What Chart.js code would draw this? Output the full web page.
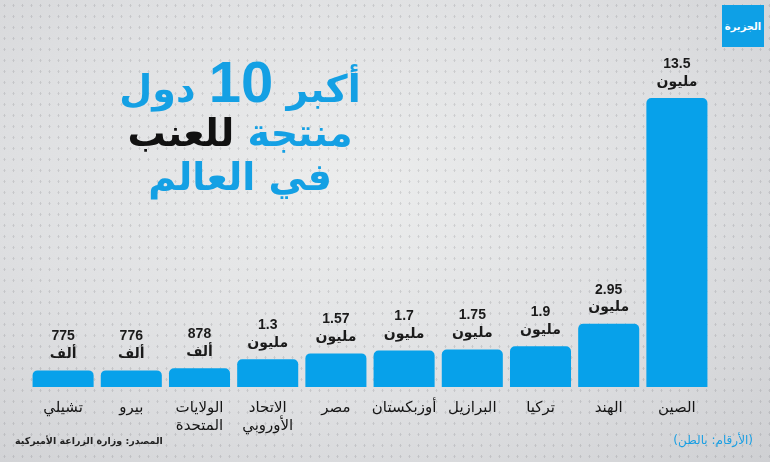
<!DOCTYPE html>
<html lang="ar">
<head>
<meta charset="UTF-8">
<title>أكبر 10 دول منتجة للعنب في العالم</title>
<script src="https://cdn.jsdelivr.net/npm/chart.js"></script>
<style>
    html, body { margin: 0; padding: 0; }
    body {
        width: 770px; height: 462px; overflow: hidden; position: relative;
        background-color: #dedfe1;
        background-image:
            radial-gradient(rgba(90,90,95,0.18) 0.8px, transparent 1.2px),
            radial-gradient(ellipse at 45% 40%, #eceded 0%, #dfe0e2 55%, #cfd0d3 100%);
        background-size: 9px 11px, 100% 100%;
        font-family: "DejaVu Sans", sans-serif;
    }
    #wrap { position: absolute; left: 0; top: 0; width: 770px; height: 462px; }
    .title {
        position: absolute; left: 90px; top: 60px; width: 300px;
        direction: rtl; text-align: center;
        font-weight: bold; font-size: 38px; line-height: 44px; color: #14a0e4;
    }
    .title .num { font-family: "Liberation Sans", Arial, sans-serif; font-size: 58px; }
    .title .dark { color: #111; }
    .logo {
        position: absolute; left: 722px; top: 5px; width: 42px; height: 42px;
        background: #0ea0e6; color: #fff; font-size: 10px; font-weight: bold;
        display: flex; align-items: center; justify-content: center; direction: rtl;
    }
    .source {
        position: absolute; left: 15px; top: 435px; direction: rtl;
        font-size: 9.5px; font-weight: bold; color: #222;
    }
    .note {
        position: absolute; right: 17px; top: 433px; direction: rtl;
        font-size: 12px; color: #1a9fe3;
    }
</style>
</head>
<body>
<div id="wrap"><canvas id="grapes"></canvas></div>
<div class="title">أكبر <span class="num">10</span> دول<br>منتجة <span class="dark">للعنب</span><br>في العالم</div>
<div class="logo">الجزيرة</div>
<div class="source">المصدر: وزارة الزراعة الأميركية</div>
<div class="note">(الأرقام: بالطن)</div>
<script>
// الإنتاج بالمليون طن، بترتيب الحجم
const countries = ['الصين', 'الهند', 'تركيا', 'البرازيل', 'أوزبكستان', 'مصر', ['الاتحاد', 'الأوروبي'], ['الولايات', 'المتحدة'], 'بيرو', 'تشيلي'];
const production = [13.5, 2.95, 1.9, 1.75, 1.7, 1.57, 1.3, 0.878, 0.776, 0.775];

const barBlue = '#07a1ea';

// عرض القيمة فوق كل عمود: مليون أو ألف
function valueText(v) {
    if (v < 1) return [String(Math.round(v * 1000)), 'ألف'];
    return [String(v), 'مليون'];
}

const valueLabels = {
    id: 'valueLabels',
    afterDatasetsDraw(chart) {
        const ctx = chart.ctx;
        const meta = chart.getDatasetMeta(0);
        ctx.save();
        ctx.textAlign = 'center';
        ctx.textBaseline = 'middle';
        ctx.fillStyle = '#1a1a1a';
        meta.data.forEach((bar, i) => {
            const [num, unit] = valueText(production[i]);
            ctx.font = 'bold 14px "Liberation Sans", Arial, sans-serif';
            ctx.fillText(num, bar.x, bar.y - 34);
            ctx.font = 'bold 14px "DejaVu Sans", sans-serif';
            ctx.fillText(unit, bar.x, bar.y - 16);
        });
        ctx.restore();
    }
};

new Chart(document.getElementById('grapes'), {
    type: 'bar',
    data: {
        labels: countries,
        datasets: [{
            data: production,
            backgroundColor: barBlue,
            borderRadius: { topLeft: 5, topRight: 5 },
            borderSkipped: 'bottom',
            categoryPercentage: 1,
            barPercentage: 0.895
        }]
    },
    options: {
        responsive: true, maintainAspectRatio: false, animation: false,
        layout: { padding: { left: 29, right: 59, top: 98, bottom: 0 } },
        plugins: { legend: { display: false }, tooltip: { enabled: false } },
        scales: {
            x: {
                reverse: true,
                grid: { display: false, drawTicks: false },
                border: { display: false },
                ticks: {
                    color: '#151515', padding: 12, maxRotation: 0, autoSkip: false,
                    font: { family: '"DejaVu Sans", sans-serif', size: 15, lineHeight: 1.2 }
                },
                afterFit(scale) { scale.height = 75; }
            },
            y: { display: false, min: 0, max: 13.5 }
        }
    },
    plugins: [valueLabels]
});
</script>
</body>
</html>
